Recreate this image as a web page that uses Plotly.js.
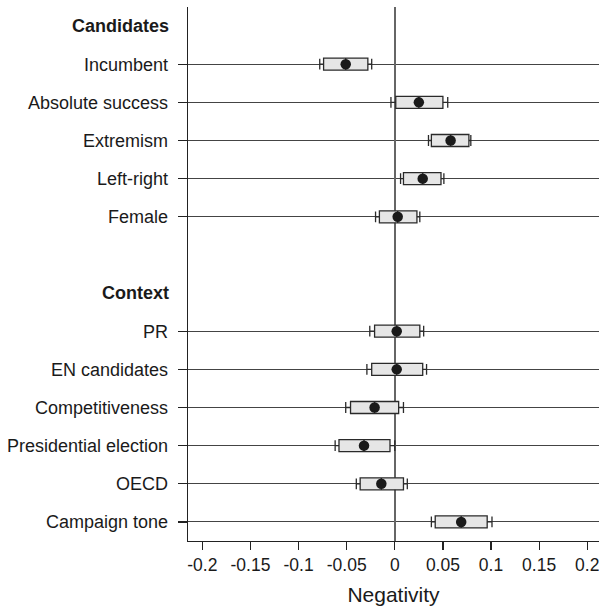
<!DOCTYPE html>
<html>
<head>
<meta charset="utf-8">
<script src="https://cdn.plot.ly/plotly-3.0.1.min.js"></script>
<style>html,body{margin:0;padding:0;background:#fff;}#chart{width:599px;height:612px;}</style>
</head>
<body>
<div id="chart"></div>
<script>
// ---- data ----
const groupNames = ['Candidates', 'Context'];
const candidateVars = ['Incumbent', 'Absolute success', 'Extremism', 'Left-right', 'Female'];
const candidateEst  = [-0.051, 0.025, 0.058, 0.029, 0.003];
const candidateBoxLo = [-0.074, 0.001, 0.038, 0.009, -0.016];
const candidateBoxHi = [-0.028, 0.050, 0.077, 0.048, 0.023];
const candidateCapLo = [-0.078, -0.004, 0.035, 0.006, -0.020];
const candidateCapHi = [-0.024, 0.055, 0.079, 0.051, 0.026];

const contextVars = ['PR', 'EN candidates', 'Competitiveness', 'Presidential election', 'OECD', 'Campaign tone'];
const contextEst  = [0.002, 0.002, -0.021, -0.032, -0.014, 0.069];
const contextBoxLo = [-0.021, -0.024, -0.046, -0.058, -0.036, 0.042];
const contextBoxHi = [0.026, 0.029, 0.004, -0.005, 0.009, 0.096];
const contextCapLo = [-0.026, -0.029, -0.051, -0.062, -0.040, 0.038];
const contextCapHi = [0.030, 0.033, 0.009, 0.000, 0.013, 0.101];

const xTickVals = [-0.2, -0.15, -0.1, -0.05, 0, 0.05, 0.1, 0.15, 0.2];
const xTickText = ['-0.2', '-0.15', '-0.1', '-0.05', '0', '0.05', '0.1', '0.15', '0.2'];
const xTitle = 'Negativity';

// ---- build rows ----
const groups = [
  {name: groupNames[0], vars: candidateVars, est: candidateEst, bl: candidateBoxLo, bh: candidateBoxHi, cl: candidateCapLo, ch: candidateCapHi},
  {name: groupNames[1], vars: contextVars, est: contextEst, bl: contextBoxLo, bh: contextBoxHi, cl: contextCapLo, ch: contextCapHi}
];
let row = 0;
const headerRows = [], pos = [], labels = [], est = [], bl = [], bh = [], cl = [], ch = [];
groups.forEach((g, gi) => {
  if (gi > 0) row += 1; // blank spacer row
  headerRows.push({name: g.name, row: row});
  row += 1;
  g.vars.forEach((v, i) => {
    pos.push(row); labels.push(v);
    est.push(g.est[i]); bl.push(g.bl[i]); bh.push(g.bh[i]); cl.push(g.cl[i]); ch.push(g.ch[i]);
    row += 1;
  });
});
const nRows = row;

const FONT = '"Liberation Sans", Arial, Helvetica, sans-serif';

const boxTrace = {
  type: 'box',
  orientation: 'h',
  y: pos,
  q1: bl, q3: bh, median: est,
  lowerfence: cl, upperfence: ch,
  width: 0.315,
  whiskerwidth: 0.9,
  fillcolor: '#e6e6e6',
  line: {color: '#2a2a2a', width: 1.3},
  hoverinfo: 'skip',
  showlegend: false
};
const dotTrace = {
  type: 'scatter',
  mode: 'markers',
  x: est, y: pos,
  marker: {color: '#1a1a1a', size: 10.5},
  hoverinfo: 'skip',
  showlegend: false
};

const annotations = headerRows.map(h => ({
  text: '<b>' + h.name + '</b>',
  xref: 'paper', x: 0, xanchor: 'right', xshift: -17,
  yref: 'y', y: h.row, yanchor: 'middle',
  showarrow: false,
  font: {family: FONT, size: 18, color: '#1a1a1a'}
}));

const layout = {
  width: 599, height: 612,
  margin: {l: 188, r: 0, t: 7, b: 71, pad: 0},
  paper_bgcolor: '#fff', plot_bgcolor: '#fff',
  font: {family: FONT, size: 18, color: '#1a1a1a'},
  showlegend: false,
  xaxis: {
    range: [-0.2149, 0.2122],
    tickvals: xTickVals, ticktext: xTickText,
    ticks: 'outside', ticklen: 8, tickwidth: 1.2, tickcolor: '#222',
    ticklabeloverflow: 'allow',
    showgrid: false,
    zeroline: true, zerolinecolor: '#666', zerolinewidth: 1.5,
    showline: true, linecolor: '#222', linewidth: 1.3,
    tickfont: {family: FONT, size: 17.5, color: '#1a1a1a'},
    title: {text: xTitle, font: {family: FONT, size: 21, color: '#1a1a1a'}, standoff: 13},
    fixedrange: true
  },
  yaxis: {
    range: [nRows - 0.5, -0.5],
    tickvals: pos, ticktext: labels,
    ticks: 'outside', ticklen: 9, tickwidth: 1.2, tickcolor: '#222',
    showgrid: true, gridcolor: '#444', gridwidth: 1,
    zeroline: false,
    showline: true, linecolor: '#222', linewidth: 1.3,
    tickfont: {family: FONT, size: 18, color: '#1a1a1a'},
    ticklabelstandoff: 6,
    fixedrange: true
  },
  annotations: annotations
};

Plotly.newPlot('chart', [boxTrace, dotTrace], layout, {displayModeBar: false, staticPlot: true});
</script>
</body>
</html>
